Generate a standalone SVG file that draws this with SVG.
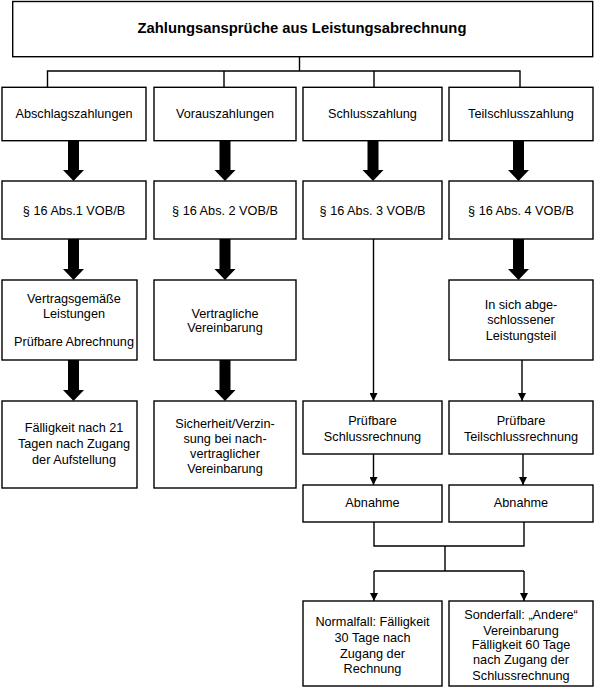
<svg xmlns="http://www.w3.org/2000/svg" width="595" height="689" viewBox="0 0 595 689">
<defs>
<marker id="thin" markerWidth="8" markerHeight="8" refX="8" refY="4" orient="auto" markerUnits="userSpaceOnUse">
<path d="M0,0 L8,4 L0,8 Z" fill="#000"/>
</marker>
<style>
.box{fill:#fff;stroke:#000;stroke-width:1.4}
.t{font-family:"Liberation Sans",Arial,sans-serif;font-size:12.7px;fill:#000;text-anchor:middle}
.title{font-family:"Liberation Sans",Arial,sans-serif;font-size:14.8px;font-weight:bold;fill:#000;text-anchor:middle}
.ln{fill:none;stroke:#000;stroke-width:1.4}
.arr{fill:none;stroke:#000;stroke-width:1.4;marker-end:url(#thin)}
.big{fill:#000;stroke:none}
</style>
</defs>
<rect width="595" height="689" fill="#fff"/>
<g id="connectors">
<path class="ln" d="M299.5,57 V71 M47.5,87 V71 H520 V87 M224,71 V87 M374,71 V87"/>
<path class="big" d="M68,141 h11 v29 h5 l-10.5,11 l-10.5,-11 h5 Z"/>
<path class="big" d="M219.5,141 h11 v29 h5 l-10.5,11 l-10.5,-11 h5 Z"/>
<path class="big" d="M367.5,141 h11 v29 h5 l-10.5,11 l-10.5,-11 h5 Z"/>
<path class="big" d="M513,141 h11 v29 h5 l-10.5,11 l-10.5,-11 h5 Z"/>
<path class="big" d="M68,239 h11 v30 h5 l-10.5,11 l-10.5,-11 h5 Z"/>
<path class="big" d="M219.5,239 h11 v30 h5 l-10.5,11 l-10.5,-11 h5 Z"/>
<path class="big" d="M513,239 h11 v30 h5 l-10.5,11 l-10.5,-11 h5 Z"/>
<path class="big" d="M68,360 h11 v30 h5 l-10.5,11 l-10.5,-11 h5 Z"/>
<path class="big" d="M219.5,360 h11 v30 h5 l-10.5,11 l-10.5,-11 h5 Z"/>
<line class="arr" x1="373.5" y1="239" x2="373.5" y2="401"/>
<line class="arr" x1="522" y1="360" x2="522" y2="401"/>
<line class="arr" x1="373.5" y1="454" x2="373.5" y2="485"/>
<line class="arr" x1="523" y1="454" x2="523" y2="485"/>
<path class="ln" d="M374,522 V546 H524 V522 M445,546 V571 M374,571 H524"/>
<line class="arr" x1="374" y1="571" x2="374" y2="601"/>
<line class="arr" x1="524" y1="571" x2="524" y2="601"/>
</g>
<g id="title">
<rect class="box" x="12.7" y="1.5" width="580" height="55.2"/>
<text class="title" x="302" y="33">Zahlungsansprüche aus Leistungsabrechnung</text>
</g>
<g id="abschlag">
<rect class="box" x="2" y="87.3" width="144" height="53.4"/>
<text class="t" x="74" y="117.5">Abschlagszahlungen</text>
</g>
<g id="voraus">
<rect class="box" x="154" y="87.3" width="142" height="53.4"/>
<text class="t" x="225" y="117.5">Vorauszahlungen</text>
</g>
<g id="schluss">
<rect class="box" x="303" y="87.3" width="139" height="53.4"/>
<text class="t" x="372.5" y="117.5">Schlusszahlung</text>
</g>
<g id="teilschluss">
<rect class="box" x="449" y="87.3" width="144" height="53.4"/>
<text class="t" x="521" y="117.5">Teilschlusszahlung</text>
</g>
<g id="abs1">
<rect class="box" x="2" y="181" width="144" height="58"/>
<text class="t" x="74" y="214.5">§ 16 Abs.1 VOB/B</text>
</g>
<g id="abs2">
<rect class="box" x="154" y="181" width="142" height="58"/>
<text class="t" x="225" y="214.5">§ 16 Abs. 2 VOB/B</text>
</g>
<g id="abs3">
<rect class="box" x="303" y="181" width="139" height="58"/>
<text class="t" x="372.5" y="214.5">§ 16 Abs. 3 VOB/B</text>
</g>
<g id="abs4">
<rect class="box" x="449" y="181" width="144" height="58"/>
<text class="t" x="521" y="214.5">§ 16 Abs. 4 VOB/B</text>
</g>
<g id="vertragsgemaess">
<rect class="box" x="2" y="280" width="135" height="80"/>
<text class="t" x="74" y="302.5">Vertragsgemäße</text>
<text class="t" x="74" y="317.5">Leistungen</text>
<text class="t" x="74" y="345.5">Prüfbare Abrechnung</text>
</g>
<g id="vertraglich">
<rect class="box" x="154" y="280" width="142" height="80"/>
<text class="t" x="225" y="317.5">Vertragliche</text>
<text class="t" x="225" y="332">Vereinbarung</text>
</g>
<g id="leistungsteil">
<rect class="box" x="449" y="280" width="144" height="80"/>
<text class="t" x="521" y="308.5">In sich abge-</text>
<text class="t" x="521" y="324">schlossener</text>
<text class="t" x="521" y="339.5">Leistungsteil</text>
</g>
<g id="faelligkeit21">
<rect class="box" x="2" y="401" width="135" height="87"/>
<text class="t" x="74" y="431.5">Fälligkeit nach 21</text>
<text class="t" x="74" y="447.5">Tagen nach Zugang</text>
<text class="t" x="74" y="463.5">der Aufstellung</text>
</g>
<g id="sicherheit">
<rect class="box" x="154" y="401" width="142" height="87"/>
<text class="t" x="225" y="427.5">Sicherheit/Verzin-</text>
<text class="t" x="225" y="442.5">sung bei nach-</text>
<text class="t" x="225" y="457.5">vertraglicher</text>
<text class="t" x="225" y="472.5">Vereinbarung</text>
</g>
<g id="pruefbar-schluss">
<rect class="box" x="303" y="401" width="139" height="53"/>
<text class="t" x="372.5" y="424.5">Prüfbare</text>
<text class="t" x="372.5" y="440.5">Schlussrechnung</text>
</g>
<g id="pruefbar-teil">
<rect class="box" x="449" y="401" width="144" height="53"/>
<text class="t" x="521" y="424.5">Prüfbare</text>
<text class="t" x="521" y="440.5">Teilschlussrechnung</text>
</g>
<g id="abnahme1">
<rect class="box" x="303" y="485" width="139" height="37"/>
<text class="t" x="372.5" y="506.5">Abnahme</text>
</g>
<g id="abnahme2">
<rect class="box" x="449" y="485" width="144" height="37"/>
<text class="t" x="521" y="506.5">Abnahme</text>
</g>
<g id="normalfall">
<rect class="box" x="303" y="601" width="139" height="85"/>
<text class="t" x="372.5" y="626">Normalfall: Fälligkeit</text>
<text class="t" x="372.5" y="642">30 Tage nach</text>
<text class="t" x="372.5" y="657.5">Zugang der</text>
<text class="t" x="372.5" y="673">Rechnung</text>
</g>
<g id="sonderfall">
<rect class="box" x="449" y="601" width="144" height="85"/>
<text class="t" x="521" y="619">Sonderfall: „Andere“</text>
<text class="t" x="521" y="634.5">Vereinbarung</text>
<text class="t" x="521" y="649">Fälligkeit 60 Tage</text>
<text class="t" x="521" y="664">nach Zugang der</text>
<text class="t" x="521" y="679.5">Schlussrechnung</text>
</g>
</svg>
